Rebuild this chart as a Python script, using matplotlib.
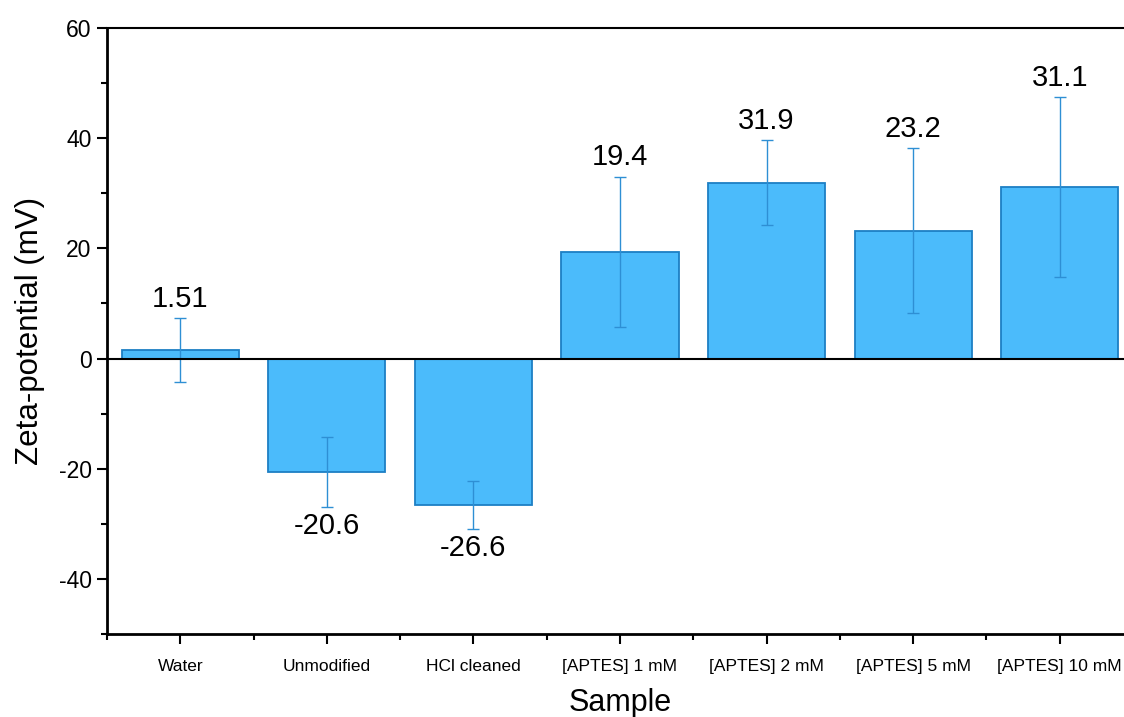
"""Zeta-potential of particle samples, bar chart with error bars."""

import matplotlib

matplotlib.use("Agg")
import matplotlib.pyplot as plt
from matplotlib.ticker import MultipleLocator
import numpy as np

plt.rcParams["font.family"] = ["Liberation Sans", "DejaVu Sans"]
plt.rcParams["axes.unicode_minus"] = False

samples = ["Water", "Unmodified", "HCl cleaned", "[APTES] 1 mM",
           "[APTES] 2 mM", "[APTES] 5 mM", "[APTES] 10 mM"]
zeta = [1.51, -20.6, -26.6, 19.4, 31.9, 23.2, 31.1]
zeta_err = [5.8, 6.3, 4.3, 13.6, 7.7, 15.0, 16.3]
value_labels = ["1.51", "-20.6", "-26.6", "19.4", "31.9", "23.2", "31.1"]

fig = plt.figure(figsize=(11.24, 7.17), dpi=100)
ax = fig.add_axes([0.0952, 0.1158, 0.9128, 0.8452])

x = np.arange(len(samples))
ax.bar(x, zeta, width=0.8, color="#4bbbfb", edgecolor="#1d7fc4",
       linewidth=1.3, zorder=2)
ax.errorbar(x, zeta, yerr=zeta_err, fmt="none", ecolor="#2e8fd4",
            elinewidth=1.0, capsize=4.5, capthick=1.0, zorder=3)
ax.axhline(0, color="black", linewidth=1.5, zorder=4)

for xi, v, e, lab in zip(x, zeta, zeta_err, value_labels):
    if v >= 0:
        ax.annotate(lab, (xi, v + e), xytext=(0, 4), textcoords="offset points",
                    ha="center", va="bottom", fontsize=21)
    else:
        ax.annotate(lab, (xi, v - e), xytext=(0, -4), textcoords="offset points",
                    ha="center", va="top", fontsize=21)

ax.set_xlim(-0.5, len(samples) - 0.5)
ax.set_ylim(-50, 60)
ax.set_xticks(x)
ax.set_xticklabels(samples, fontsize=12.5)
ax.xaxis.set_minor_locator(MultipleLocator(1, offset=0.5))
ax.yaxis.set_major_locator(MultipleLocator(20))
ax.yaxis.set_minor_locator(MultipleLocator(10))

ax.tick_params(axis="y", which="major", labelsize=16.5, length=7, width=1.5,
               pad=4)
ax.tick_params(axis="y", which="minor", length=4, width=1.5)
ax.tick_params(axis="x", which="major", length=7, width=1.5, pad=11)
ax.tick_params(axis="x", which="minor", length=4, width=1.5)

for side in ["left", "bottom"]:
    ax.spines[side].set_linewidth(2.0)
ax.spines["top"].set_linewidth(1.5)
ax.spines["right"].set_linewidth(1.5)

ax.set_xlabel("Sample", fontsize=22, labelpad=10)
ax.set_ylabel("Zeta-potential (mV)", fontsize=22.5, labelpad=10)

fig.savefig("out.png", dpi=100)
plt.close(fig)
